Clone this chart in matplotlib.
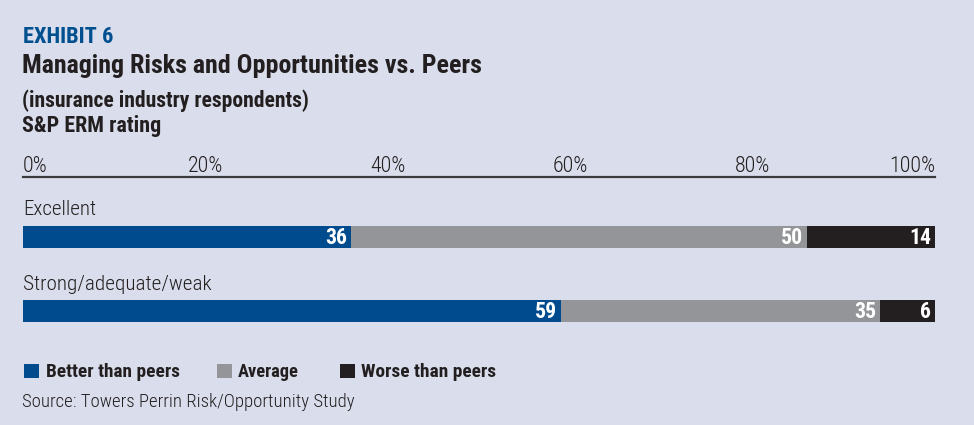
import matplotlib
matplotlib.use("Agg")
import matplotlib.pyplot as plt

plt.rcParams["font.family"] = ["Roboto Condensed", "DejaVu Sans"]
plt.rcParams["font.stretch"] = "condensed"

# data
categories = ["Excellent", "Strong/adequate/weak"]
series = ["Better than peers", "Average", "Worse than peers"]
values = [[36, 59], [50, 35], [14, 6]]
ticks = [0, 20, 40, 60, 80, 100]
tick_labels = ["0%", "20%", "40%", "60%", "80%", "100%"]

colors = ["#004b8d", "#939598", "#231f20"]
bg = "#dadeec"
txt = "#231f20"

W, H = 974, 425
fig = plt.figure(figsize=(W / 100, H / 100), dpi=100, facecolor=bg)
rend = fig.canvas.get_renderer()

def px(x, y):
    return x / W, 1 - y / H

def fit(t, width):
    # scale font so the text is about as wide as in the reference
    w = t.get_window_extent(rend).width
    t.set_fontsize(t.get_fontsize() * width / w)
    return t.get_fontsize()

# axes: top spine at y=177, bottom at y=348
x0, x1 = 23, 935
ytop, ybot = 177, 348
ax = fig.add_axes([x0 / W, 1 - ybot / H, (x1 - x0) / W, (ybot - ytop) / H])
ax.set_facecolor(bg)
ax.set_xlim(0, 100)
ax.set_ylim(1.5, -0.81)

vsize = None
left = [0, 0]
for s, vals in enumerate(values):
    ax.barh(range(len(categories)), vals, left=left, height=0.30,
            color=colors[s], linewidth=0)
    for i, v in enumerate(vals):
        t = ax.text(left[i] + v - 0.45, i + 0.01, str(v), color="white",
                    fontsize=vsize or 13, fontweight="bold", ha="right", va="center")
        if vsize is None and v == 14:
            vsize = fit(t, 22)
    left = [l + v for l, v in zip(left, vals)]
for t in ax.texts:
    t.set_fontsize(vsize)

cat_w = [73, 189]
for i, c in enumerate(categories):
    t = ax.text(0, i - 0.29, c, color=txt, fontsize=15, fontweight=300,
                ha="left", va="baseline")
    fit(t, cat_w[i])

for sp in ["right", "bottom", "left"]:
    ax.spines[sp].set_visible(False)
ax.spines["top"].set_color("#3a3a3c")
ax.spines["top"].set_linewidth(1.6)
ax.set_yticks([])
ax.set_xticks([])
tsize = None
tks = []
for t, lab in zip(ticks, tick_labels):
    ha = "left" if t == 0 else ("right" if t == 100 else "center")
    tk = ax.text(t, -0.81 - 0.074, lab, color=txt, fontsize=15, fontweight=300,
                 ha=ha, va="baseline")
    tks.append(tk)
tsize = fit(tks[-1], 46)
for tk in tks:
    tk.set_fontsize(tsize)

# titles
t = fig.text(*px(23, 43), "EXHIBIT 6", color="#00508f", fontsize=18,
             fontweight="bold", va="baseline")
fit(t, 91)
t = fig.text(*px(22, 73.5), "Managing Risks and Opportunities vs. Peers", color=txt,
             fontsize=18, fontweight="bold", va="baseline")
fit(t, 460)
t = fig.text(*px(22, 107.5), "(insurance industry respondents)", color=txt,
             fontsize=14, fontweight="bold", va="baseline")
fit(t, 288)
t = fig.text(*px(22, 132), "S&P ERM rating", color=txt,
             fontsize=14, fontweight="bold", va="baseline")
fit(t, 140)

# legend
lx = [24, 216.5, 339.5]
lw = [134, 61, 136]
for s, name in enumerate(series):
    fig.patches.append(plt.Rectangle(px(lx[s], 378), 15 / W, 14 / H,
                                     transform=fig.transFigure,
                                     color=colors[s], linewidth=0))
    t = fig.text(*px(lx[s] + 21.5, 377), name, color=txt, fontsize=14,
                 fontweight="bold", va="baseline")
    fit(t, lw[s])

t = fig.text(*px(22, 407), "Source: Towers Perrin Risk/Opportunity Study", color=txt,
             fontsize=14, fontweight=300, va="baseline")
fit(t, 333)

fig.savefig("out.png", dpi=100, facecolor=bg)
